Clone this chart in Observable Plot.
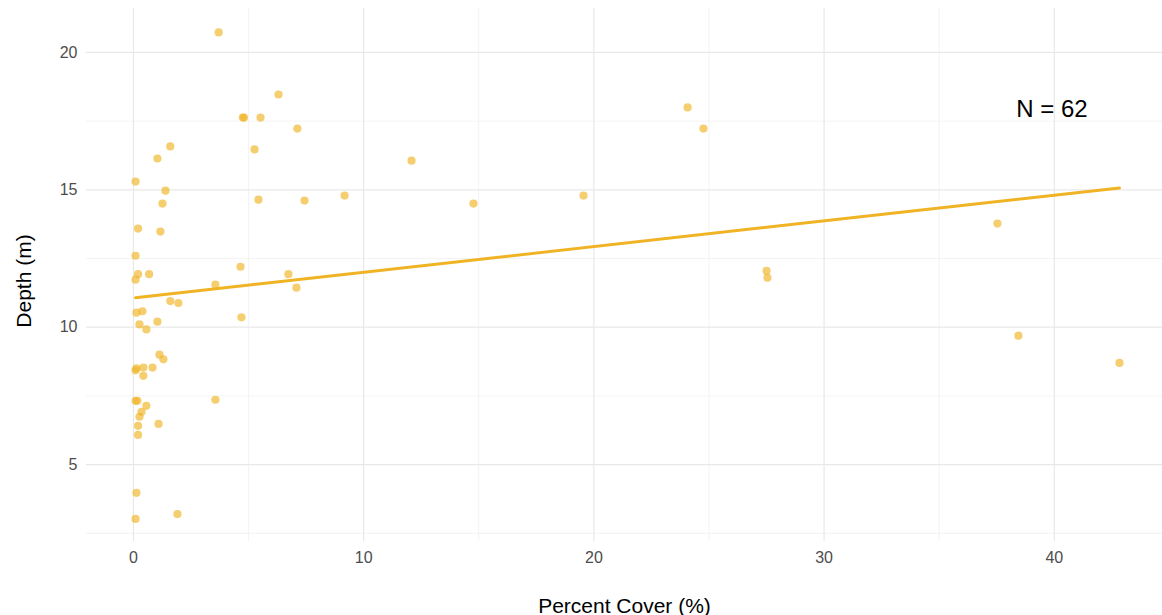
<!DOCTYPE html>
<html>
<head>
<meta charset="utf-8">
<script src="https://cdn.jsdelivr.net/npm/d3@7"></script>
<script src="https://cdn.jsdelivr.net/npm/@observablehq/plot@0.6"></script>
<style>
  html, body { margin: 0; padding: 0; background: #fff; }
  #chart { width: 1162px; height: 615px; }
</style>
</head>
<body>
<div id="chart"></div>
<script>
// Percent cover (%) and depth (m) for each of the 62 observations
const cover = [
  3.7, 6.3, 4.75, 4.8, 5.52, 7.12, 5.26, 5.43, 7.43, 9.17,
  1.6, 1.04, 0.09, 1.39, 1.26, 0.2, 1.17, 0.09, 4.65, 0.2,
  0.68, 6.73, 0.09, 3.56, 7.08, 1.6, 1.95, 0.13, 0.39, 4.69,
  0.26, 1.04, 0.56, 1.13, 1.3, 0.13, 0.09, 0.43, 0.83, 0.43,
  0.09, 0.17, 3.56, 0.56, 0.35, 0.26, 0.2, 0.2, 1.09, 0.13,
  0.09, 1.91,
  12.08, 14.77, 19.55, 24.07, 24.76, 27.5, 27.54, 37.53, 38.44, 42.83
];
const depth = [
  20.73, 18.47, 17.63, 17.63, 17.63, 17.23, 16.47, 14.64, 14.61, 14.79,
  16.58, 16.14, 15.3, 14.97, 14.5, 13.59, 13.48, 12.6, 12.2, 11.93,
  11.93, 11.93, 11.73, 11.55, 11.44, 10.95, 10.88, 10.53, 10.58, 10.36,
  10.1, 10.2, 9.92, 9.0, 8.83, 8.5, 8.43, 8.53, 8.53, 8.23,
  7.32, 7.32, 7.36, 7.14, 6.92, 6.74, 6.41, 6.08, 6.48, 3.97,
  3.02, 3.2,
  16.06, 14.5, 14.79, 18.0, 17.23, 12.05, 11.8, 13.77, 9.69, 8.7
];

// Axis ticks and grid
const xTicks = [0, 10, 20, 30, 40];
const xMinor = [5, 15, 25, 35];
const yTicks = [5, 10, 15, 20];
const yMinor = [2.5, 7.5, 12.5, 17.5];

// Annotation
const annotationText = ["N = 62"];
const annotationX = [39.9];
const annotationY = [17.92];

const data = cover.map((c, i) => ({cover: c, depth: depth[i]}));
const notes = annotationText.map((t, i) => ({t, x: annotationX[i], y: annotationY[i]}));

const gold = "#F0B323";
const font = "'Liberation Sans', Arial, sans-serif";

const chart = Plot.plot({
  width: 1162,
  height: 615,
  marginLeft: 86,
  marginRight: 0,
  marginTop: 8,
  marginBottom: 74,
  style: {fontFamily: font, background: "#fff"},
  x: {domain: [-2.04, 44.70], axis: null},
  y: {domain: [2.2, 21.6], axis: null},
  marks: [
    Plot.ruleX(xMinor, {stroke: "#f0f0f0", strokeWidth: 0.8}),
    Plot.ruleY(yMinor, {stroke: "#f0f0f0", strokeWidth: 0.8}),
    Plot.ruleX(xTicks, {stroke: "#e8e8e8", strokeWidth: 1.2}),
    Plot.ruleY(yTicks, {stroke: "#e8e8e8", strokeWidth: 1.2}),
    Plot.axisX(xTicks, {tickSize: 0, tickPadding: 10, fontSize: 16, color: "#4d4d4d", label: null}),
    Plot.axisY(yTicks, {tickSize: 0, tickPadding: 9, fontSize: 16, color: "#4d4d4d", label: null}),
    Plot.dot(data, {x: "cover", y: "depth", r: 4.1, fill: gold, fillOpacity: 0.65, stroke: "none"}),
    Plot.linearRegressionY(data, {x: "cover", y: "depth", stroke: gold, strokeWidth: 3, ci: 0}),
    Plot.text(notes, {x: "x", y: "y", text: "t", fontSize: 24, fill: "#000", textAnchor: "middle"}),
    Plot.text(["Percent Cover (%)"], {frameAnchor: "bottom", dy: 71, fontSize: 21, fill: "#000", textAnchor: "middle"}),
    Plot.text(["Depth (m)"], {frameAnchor: "left", dx: -62, dy: 6, rotate: -90, fontSize: 21, fill: "#000", textAnchor: "middle"})
  ]
});
document.getElementById("chart").appendChild(chart);
</script>
</body>
</html>
